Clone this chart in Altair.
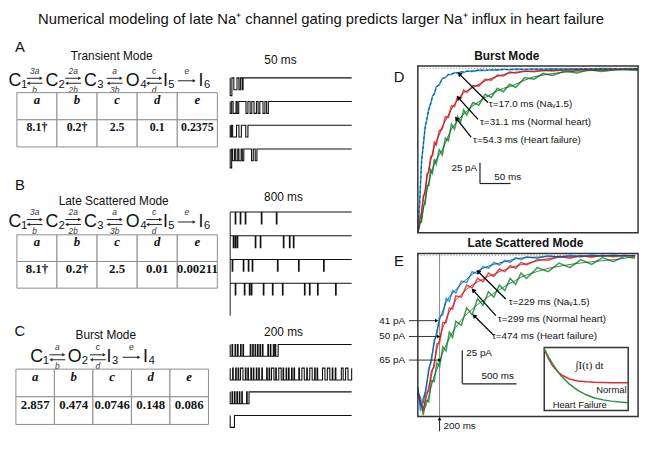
import altair as alt
import pandas as pd

# ---------------- data ----------------
title_text = "Numerical modeling of late Na\u207a channel gating predicts larger Na\u207a influx in heart failure"

params = ["a", "b", "c", "d", "e"]
rates_A = ["8.1\u2020", "0.2\u2020", "2.5", "0.1", "0.2375"]
rates_B = ["8.1\u2020", "0.2\u2020", "2.5", "0.01", "0.00211"]
rates_C = ["2.857", "0.474", "0.0746", "0.148", "0.086"]

# Panel D (burst mode), time in ms, current in pA
t_D = [0, 3, 6, 9, 12, 15, 18, 21, 24, 27, 30, 35, 40, 45, 50, 55, 60, 65, 70, 75, 80,
       90, 100, 110, 120, 130, 140, 150, 160, 175, 190, 205, 220, 240, 260, 280, 300, 330, 360]
blue_D_raw = [-198, -163, -112, -93, -70, -61, -48, -43, -33, -31, -22, -20, -12, -11, -7, -7.5, -5, -6, -4, -5, -3,
              -3.5, -2, -2.5, -1.5, -2, -1, -1.5, -0.8, -1.2, -0.7, -1, -0.5, -0.8, -0.4, -0.6, -0.2, -0.4, 0]
blue_D_fit = [-198, -160, -115, -90, -72, -59, -50, -41, -35, -29, -24, -18, -13, -10, -8, -6.5, -5.5, -5, -4.5, -4, -3.5,
              -3, -2.2, -2, -1.8, -1.5, -1.3, -1.2, -1, -1, -0.9, -0.8, -0.7, -0.6, -0.5, -0.4, -0.3, -0.2, -0.1]
red_D_raw = [-198, -182, -176, -153, -150, -127, -125, -106, -105, -89, -92, -75, -73, -58, -59, -45, -46, -34, -36, -26, -29,
             -21, -21, -13, -14, -8, -9, -4.5, -5.5, -3, -4, -2.2, -3, -1.5, -2, -0.8, -1.4, -0.5, -0.8]
red_D_fit = [-198, -185, -172, -158, -146, -132, -121, -111, -102, -94, -88, -80, -70, -63, -56, -49, -43, -38, -33, -29, -27,
             -23, -19, -15, -12, -9.5, -7.5, -5.5, -4.5, -3.8, -3.2, -2.8, -2.4, -2, -1.5, -1.2, -1, -0.8, -0.5]
green_D_raw = [-198, -186, -185, -165, -163, -141, -141, -122, -126, -109, -115, -98, -104, -84, -87, -67, -73, -58, -64, -50, -56,
               -41, -44, -31, -35, -24, -28, -19, -23, -11, -13, -6, -8.5, -3, -5.5, -1.5, -3.5, -1, -2.5]
green_D_fit = [-198, -190, -181, -170, -158, -147, -137, -128, -121, -115, -110, -104, -98, -90, -81, -73, -68, -63, -59, -55, -51,
               -45, -40, -35, -31, -27, -24, -22, -19, -14, -10, -8, -6.2, -4.5, -3.2, -2.6, -2.2, -1.8, -1.2]

# Panel E (late scattered mode)
t_E = [0, 25, 50, 75, 100, 125, 150, 175, 200, 230, 260, 290, 320, 350, 400, 450, 500, 550, 600, 650,
       700, 750, 800, 850, 900, 950, 1000, 1100, 1200, 1300, 1400, 1500, 1600, 1700, 1800, 1900, 2000]
blue_E_raw = [-98, -116, -106, -101, -84, -79, -63, -59, -45, -44, -32, -34, -26, -28, -19, -20, -12, -13.5, -8, -9.5,
              -5, -7, -3.5, -5, -1.5, -3, -0.8, -2, 0, -1.2, 0.3, -0.8, 0.5, -0.5, 0.4, -0.4, 0.2]
blue_E_fit = [-98, -112, -110, -98, -87, -76, -66, -56, -48, -41, -35, -31, -28, -25.5, -21, -17.5, -14, -11.5, -9.5, -7.8,
              -6.5, -5.5, -4.5, -3.5, -2.5, -1.8, -1.5, -1.1, -0.8, -0.6, -0.4, -0.2, -0.1, 0, 0, 0, 0]
red_E_raw = [-102, -108, -117, -103, -101, -86, -83, -66, -65, -50, -50, -39, -40, -30, -31, -22, -24, -17, -19.5, -13,
             -15.5, -10, -12, -7.5, -9.5, -5, -7, -3, -3.5, -0.5, -2, 0, -1.2, 0.3, -0.8, 0.2, -0.4]
red_E_fit = [-102, -110, -114, -107, -98, -90, -80, -70, -62, -54, -47.5, -42, -37.5, -33, -29, -25, -22, -19.5, -17.5, -15.5,
             -14, -12, -10.5, -9, -8, -6.8, -6, -4, -2.2, -1.3, -1, -0.8, -0.6, -0.4, -0.3, -0.2, -0.1]
green_E_raw = [-102, -106, -119, -108, -109, -93, -94, -80, -83, -68, -71, -57, -61, -49, -52, -39, -44, -32, -37, -27,
               -31, -22, -26, -17, -21.5, -13, -17, -9, -12, -5.5, -9, -3, -6.5, -1.5, -4.5, -0.5, -2]
green_E_fit = [-102, -110, -116, -112, -105, -97, -90, -85, -79, -72.5, -66.5, -61.5, -57, -53.5, -48, -43.5, -40, -36.5, -33.5, -30.5,
               -28, -25.5, -23, -20.5, -18.5, -16, -14.5, -11.8, -9.5, -8, -6.6, -5.5, -4.6, -3.8, -3, -2, -0.8]

# Inset of E (normalised integral of current)
inset_u = [0, 0.05, 0.1, 0.15, 0.2, 0.3, 0.4, 0.5, 0.6, 0.7, 0.8, 0.9, 1.0]
inset_normal = [0.98, 0.82, 0.71, 0.63, 0.57, 0.5, 0.47, 0.455, 0.447, 0.444, 0.442, 0.441, 0.44]
inset_hf = [0.98, 0.85, 0.74, 0.64, 0.55, 0.42, 0.32, 0.25, 0.2, 0.17, 0.15, 0.135, 0.125]

# Single-channel sweeps: openings (start ms, end ms[, amplitude])
trace_50ms = [
    [(0, 0.7, 1.5), (1.5, 2.8), (3.6, 4.2), (4.9, 5.3)],
    [(0, 0.6), (1.2, 2.4), (2.9, 3.5), (6.5, 7.3), (8.2, 8.9), (9.8, 10.8), (11.5, 12.2), (13.5, 14.3), (15.0, 15.7)],
    [(0, 0.5), (1.0, 2.6), (3.6, 4.6), (6.4, 7.3)],
    [(0, 0.6, 1.6), (1.0, 1.8), (2.3, 3.1), (3.6, 4.5), (5.0, 5.6), (8.8, 9.5), (10.3, 11.0)],
]
trace_800ms = [
    [(33, 37), (66, 70), (99, 103), (205, 209), (304, 308)],
    [(20, 24), (33, 37), (46, 50), (165, 169), (198, 202), (350, 354), (390, 394), (416, 420)],
    [(13, 17), (86, 90), (119, 123), (145, 149), (311, 315), (450, 454), (615, 619)],
    [(33, 37), (93, 97), (126, 130), (139, 143), (218, 222), (278, 282), (344, 348), (489, 493), (522, 526), (575, 579), (694, 698)],
]
trace_200ms = [
    [(0, 3), (4, 8), (9, 12), (13, 17), (18, 21), (22, 33), (34, 37), (38, 41), (42, 45), (46, 49), (50, 53),
     (54, 62), (63, 66), (67, 71), (72, 74), (75, 79)],
    [(0, 4), (5, 9), (10, 13), (14, 17), (21, 25), (26, 29), (30, 34), (35, 38), (39, 43), (44, 47), (48, 52),
     (53, 60), (61, 64), (65, 68), (72, 75), (76, 80), (84, 87), (88, 92), (93, 96), (97, 101), (102, 105),
     (106, 113), (114, 118), (122, 126), (127, 131), (135, 139), (140, 143), (144, 152), (156, 160), (164, 168),
     (169, 173), (174, 183), (186, 190), (194, 200)],
    [(0, 3), (4, 7), (8, 11), (12, 15), (16, 19), (20, 27), (28, 31)],
    [(0, 7)],
]

# ---------------- styles ----------------
SANS = "Liberation Sans"
SERIF = "Liberation Serif"

STY = {
    "title": dict(font=SANS, fontSize=15, color="#111"),
    "letter": dict(font=SANS, fontSize=15, color="#111"),
    "mode": dict(font=SANS, fontSize=12, color="#111"),
    "modeb": dict(font=SANS, fontSize=12, fontWeight="bold", color="#111"),
    "state": dict(font=SANS, fontSize=18, color="#111"),
    "rate": dict(font=SANS, fontSize=8.5, fontStyle="italic", color="#333"),
    "ann": dict(font=SANS, fontSize=10, align="left", color="#111"),
    "annc": dict(font=SANS, fontSize=10, align="center", color="#111"),
    "annr": dict(font=SANS, fontSize=10, align="right", color="#111"),
    "lbl": dict(font=SANS, fontSize=12, color="#111"),
    "serif": dict(font=SERIF, fontSize=11, color="#111"),
    "small": dict(font=SANS, fontSize=9.5, align="left", color="#111"),
    "smallr": dict(font=SANS, fontSize=9.5, align="right", color="#111"),
}


def lin(domain, reverse=False, rng=None):
    if rng is None:
        return alt.Scale(domain=domain, nice=False, zero=False, reverse=reverse)
    return alt.Scale(domain=domain, nice=False, zero=False, reverse=reverse, range=rng)


def text_layers(items, xs, ys):
    kinds = []
    for it in items:
        if it[3] not in kinds:
            kinds.append(it[3])
    layers = []
    for k in kinds:
        df = pd.DataFrame([(a, b, c) for a, b, c, kk in items if kk == k], columns=["label", "x", "y"])
        layers.append(alt.Chart(df).mark_text(**STY[k]).encode(
            x=alt.X("x:Q", scale=xs, axis=None),
            y=alt.Y("y:Q", scale=ys, axis=None),
            text="label:N"))
    return layers


def segs(x1, y1, x2, y2, xs, ys, color="black", width=1.2, dash=None):
    df = pd.DataFrame({"a": x1, "b": y1, "c": x2, "d": y2})
    kw = dict(color=color, strokeWidth=width)
    if dash:
        kw["strokeDash"] = dash
    return alt.Chart(df).mark_rule(**kw).encode(
        x=alt.X("a:Q", scale=xs, axis=None), y=alt.Y("b:Q", scale=ys, axis=None), x2="c:Q", y2="d:Q")


def heads(x, y, ang, xs, ys, size=26, color="black"):
    df = pd.DataFrame({"x": x, "y": y, "ang": ang})
    return alt.Chart(df).mark_point(shape="triangle-up", filled=True, color=color, size=size, opacity=1).encode(
        x=alt.X("x:Q", scale=xs, axis=None), y=alt.Y("y:Q", scale=ys, axis=None),
        angle=alt.Angle("ang:Q", scale=None))


def page_chart(items, x0, x1, y0, y1, arrows=None):
    xs = lin([x0, x1])
    ys = lin([y0, y1], reverse=True)
    layers = []
    if arrows:
        sx1, sy1, sx2, sy2, hx, hy, ha = arrows
        layers.append(segs(sx1, sy1, sx2, sy2, xs, ys, color="#222", width=1))
        layers.append(heads(hx, hy, ha, xs, ys, size=12, color="#222"))
    layers += text_layers(items, xs, ys)
    return alt.layer(*layers).properties(width=x1 - x0, height=y1 - y0)


def scheme(states, arrows, y):
    items = []
    sx1, sy1, sx2, sy2, hx, hy, ha = [], [], [], [], [], [], []
    for s, x in states:
        items.append((s, x, y, "state"))
    for kind, x, above, below in arrows:
        if kind == "rev":
            # forward arrow (top) and backward arrow (bottom)
            sx1 += [x - 8, x + 8]; sy1 += [y - 2.5, y + 2.5]
            sx2 += [x + 6, x - 6]; sy2 += [y - 2.5, y + 2.5]
            hx += [x + 6.5, x - 6.5]; hy += [y - 2.5, y + 2.5]; ha += [90, 270]
        else:
            sx1 += [x - 9]; sy1 += [y]; sx2 += [x + 7]; sy2 += [y]
            hx += [x + 7.5]; hy += [y]; ha += [90]
        if above:
            items.append((above, x, y - 10, "rate"))
        if below:
            items.append((below, x, y + 9, "rate"))
    return items, (sx1, sy1, sx2, sy2, hx, hy, ha)


def table_chart(values, rng, height, vsize):
    rows = []
    for p, v in zip(params, values):
        rows.append((p, "hdr", p))
        rows.append((p, "val", v))
    df = pd.DataFrame(rows, columns=["param", "row", "label"])
    xs = alt.Scale(type="band", domain=params, range=rng, paddingInner=0, paddingOuter=0)
    ys = alt.Scale(type="band", domain=["hdr", "val"], paddingInner=0, paddingOuter=0)
    base = alt.Chart(df).encode(x=alt.X("param:N", scale=xs, axis=None),
                                y=alt.Y("row:N", scale=ys, axis=None))
    cells = base.mark_rect(fill="white", stroke="#8c8c8c", strokeWidth=1)
    hdr = base.transform_filter("datum.row == 'hdr'").mark_text(
        font=SERIF, fontSize=13, fontWeight="bold", fontStyle="italic", dy=-6, color="#111").encode(text="label:N")
    val = base.transform_filter("datum.row == 'val'").mark_text(
        font=SERIF, fontSize=vsize, fontWeight="bold", dy=-6, color="#111").encode(text="label:N")
    return alt.layer(cells, hdr, val).properties(width=212, height=height)


def trace_frame(traces, T):
    rows = []
    for k, ops in enumerate(traces):
        i = 0
        rows.append((k, i, 0.0, 0.0))
        i += 1
        for op in ops:
            s, e = op[0], op[1]
            a = op[2] if len(op) > 2 else 1.0
            rows += [(k, i, s, 0.0), (k, i + 1, s, a), (k, i + 2, e, a), (k, i + 3, e, 0.0)]
            i += 4
        rows.append((k, i, T, 0.0))
    return pd.DataFrame(rows, columns=["trace", "idx", "t", "state"])


def trace_group(traces, T, ydom, height, label, label_t, label_y, vline=None):
    xs = lin([0, T])
    ys = lin(ydom)
    df = trace_frame(traces, T)
    lines = alt.Chart(df).transform_calculate(level="-(2*datum.trace + datum.state)").mark_line(
        color="#111", strokeWidth=1.1).encode(
        x=alt.X("t:Q", scale=xs, axis=None),
        y=alt.Y("level:Q", scale=ys, axis=None),
        detail="trace:N", order="idx:Q")
    layers = [lines]
    if vline is not None:
        vdf = pd.DataFrame({"t": [0], "y1": [0], "y2": [vline]})
        layers.append(alt.Chart(vdf).mark_rule(color="#222", strokeWidth=1).encode(
            x=alt.X("t:Q", scale=xs, axis=None), y=alt.Y("y1:Q", scale=ys, axis=None), y2="y2:Q"))
    layers += text_layers([(label, label_t, label_y, "lbl")], xs, ys)
    return alt.layer(*layers).properties(width=123, height=height)


def curve(t, vals, xs, ys, color, width, dash=None):
    df = pd.DataFrame({"t": t, "I": vals})
    kw = dict(color=color, strokeWidth=width)
    if dash:
        kw["strokeDash"] = dash
    return alt.Chart(df).mark_line(**kw).encode(
        x=alt.X("t:Q", scale=xs, axis=None), y=alt.Y("I:Q", scale=ys, axis=None))


def box(x1, x2, y1, y2, xs, ys, width=1.5, fill=None):
    df = pd.DataFrame({"a": [x1], "b": [y1], "c": [x2], "d": [y2]})
    kw = dict(stroke="#333", strokeWidth=width)
    if fill:
        kw["fill"] = fill
    else:
        kw["fillOpacity"] = 0
    return alt.Chart(df).mark_rect(**kw).encode(
        x=alt.X("a:Q", scale=xs, axis=None), y=alt.Y("b:Q", scale=ys, axis=None), x2="c:Q", y2="d:Q")


BLUE, RED, GREEN = "#2f9fe0", "#e5484c", "#35a04e"
BLUE_F, RED_F, GREEN_F = "#1b3a6b", "#9c1d1d", "#1e5f2b"

# ---------------- title ----------------
title_chart = page_chart([(title_text, 325, 17, "title")], 8, 639, 8, 38)

# ---------------- left column ----------------
six_states = [("C\u2081", 18), ("C\u2082", 56), ("C\u2083", 95), ("O\u2084", 138), ("I\u2085", 171), ("I\u2086", 207)]
six_arrows = [("rev", 35, "3a", "b"), ("rev", 74, "2a", "2b"), ("rev", 116, "a", "3b"),
              ("rev", 156, "c", "d"), ("fwd", 189, "e", None)]

A_sch, A_arr = scheme(six_states, six_arrows, 79)
A_head = page_chart([("A", 20, 45, "letter"), ("Transient Mode", 113, 54, "mode")] + A_sch, 8, 220, 38, 91, A_arr)
A_tab = table_chart(rates_A, [9, 212], 55, 12)

B_sch, B_arr = scheme(six_states, six_arrows, 222)
B_head = page_chart([("B", 20, 185, "letter"), ("Late Scattered Mode", 115, 201, "mode")] + B_sch, 8, 220, 146, 235, B_arr)
B_tab = table_chart(rates_B, [9, 212], 54, 13)

C_sch, C_arr = scheme([("C\u2081", 40), ("O\u2082", 79), ("I\u2083", 114), ("I\u2084", 151)],
                      [("rev", 58, "a", "b"), ("rev", 99, "c", "d"), ("fwd", 133, "e", None)], 359)
C_head = page_chart([("C", 20, 332, "letter"), ("Burst Mode", 107, 336, "mode")] + C_sch, 8, 220, 289, 371, C_arr)
C_tab = table_chart(rates_C, [8, 203], 56, 13)

left_col = alt.vconcat(A_head, A_tab, B_head, B_tab, C_head, C_tab, spacing=0, bounds="flush")

# ---------------- middle column ----------------
g50 = trace_group(trace_50ms, 50, [-7.0, 3.17], 122, "50 ms", 20.7, 1.5)
g800 = trace_group(trace_800ms, 800, [-9.42, 4.33], 165, "800 ms", 351, 1.25, vline=-8.75)
g200 = trace_group(trace_200ms, 200, [-7.0, 1.75], 105, "200 ms", 87.8, 1.08)
mid_col = alt.vconcat(g50, g800, g200, spacing=0, bounds="flush")

# ---------------- panel D ----------------
RW = 267          # right column width (labels area + plot)
PX = [44, 267]    # plot area inside the right column
xs_D = lin([0, 360], rng=PX)
ys_D = lin([-198, 3])
D_layers = [
    segs([0], [0], [360], [0], xs_D, ys_D, color="#777", width=0.8, dash=[1, 2]),
    curve(t_D, green_D_raw, xs_D, ys_D, GREEN, 1.6),
    curve(t_D, red_D_raw, xs_D, ys_D, RED, 1.6),
    curve(t_D, blue_D_raw, xs_D, ys_D, BLUE, 1.6),
    curve(t_D, green_D_fit, xs_D, ys_D, GREEN_F, 0.9),
    curve(t_D, red_D_fit, xs_D, ys_D, RED_F, 0.9),
    curve(t_D, blue_D_fit, xs_D, ys_D, BLUE_F, 0.9, dash=[3, 2]),
    box(0, 360, -198, 3, xs_D, ys_D),
    segs([114.5, 98.4, 87.1], [-41, -61.3, -82.7], [67.7, 66.1, 62.9], [-6.5, -35.1, -60.1], xs_D, ys_D, width=1.3),
    heads([67.7, 66.1, 62.9], [-6.5, -35.1, -60.1], [315, 318, 322], xs_D, ys_D),
    segs([101.6, 101.6], [-113.6, -138.6], [101.6, 151.6], [-138.6, -138.6], xs_D, ys_D, color="#222", width=1.2),
] + text_layers([
    ("\u03c4=17.0 ms (Na\u1d651.5)", 116, -43.4, "ann"),
    ("\u03c4=31.1 ms (Normal heart)", 101.6, -64.9, "ann"),
    ("\u03c4=54.3 ms (Heart failure)", 90.3, -86.3, "ann"),
    ("25 pA", 97, -119.6, "annr"),
    ("50 ms", 147, -130.3, "annc"),
    ("D", -30.6, -10, "letter"),
], xs_D, ys_D)
D_chart = alt.layer(*D_layers).properties(width=RW, height=169)
D_top = page_chart([("Burst Mode", 506, 54, "modeb")], 372, 639, 38, 64)

# ---------------- panel E ----------------
xs_E = lin([0, 2027], rng=PX)
ys_E = lin([-120, 1.5])
E_main = alt.layer(*([
    segs([0], [0], [2027], [0], xs_E, ys_E, color="#777", width=0.8, dash=[1, 2]),
    segs([200], [1.5], [200], [-120], xs_E, ys_E, color="#8a8a8a", width=1),
    curve(t_E, green_E_raw, xs_E, ys_E, GREEN, 1.5),
    curve(t_E, red_E_raw, xs_E, ys_E, RED, 1.5),
    curve(t_E, blue_E_raw, xs_E, ys_E, BLUE, 1.5),
    curve(t_E, green_E_fit, xs_E, ys_E, GREEN_F, 0.8),
    curve(t_E, red_E_fit, xs_E, ys_E, RED_F, 0.8),
    curve(t_E, blue_E_fit, xs_E, ys_E, BLUE_F, 0.8),
    box(0, 2027, -120, 1.5, xs_E, ys_E),
    segs([809, 718, 700], [-32.3, -44.8, -59.5], [555, 509, 518], [-11.8, -25.7, -44.8], xs_E, ys_E, width=1.3),
    heads([555, 509, 518], [-11.8, -25.7, -44.8], [315, 318, 315], xs_E, ys_E),
    segs([409, 409], [-70.6, -95.6], [409, 909], [-95.6, -95.6], xs_E, ys_E, color="#222", width=1.2),
    segs([-82, -82, -82], [-48.5, -60.3, -77.9], [173, 191, 200], [-48.5, -60.3, -77.9], xs_E, ys_E, color="#333", width=1),
    heads([173, 191, 200], [-48.5, -60.3, -77.9], [90, 90, 90], xs_E, ys_E, size=14),
    segs([200], [-121], [200], [-131], xs_E, ys_E, color="#222", width=1),
    heads([200], [-121.5], [0], xs_E, ys_E, size=14),
] + text_layers([
    ("\u03c4=229 ms (Na\u1d651.5)", 836, -34.5, "ann"),
    ("\u03c4=299 ms (Normal heart)", 736, -47, "ann"),
    ("\u03c4=474 ms (Heart failure)", 682, -60.3, "ann"),
    ("25 pA", 445, -72.8, "ann"),
    ("500 ms", 736, -89.7, "annc"),
    ("41 pA", -118, -48.5, "annr"),
    ("50 pA", -118, -60.3, "annr"),
    ("65 pA", -118, -77.9, "annr"),
    ("200 ms", 236, -127, "ann"),
    ("E", -173, -4.4, "letter"),
], xs_E, ys_E)))

xs_in = alt.Scale(domain=[0, 1], range=[172, 257], nice=False, zero=False)
ys_in = alt.Scale(domain=[0, 1], range=[159, 95], nice=False, zero=False)
inset = alt.layer(
    box(0, 1, 0, 1, xs_in, ys_in, fill="white"),
    curve(inset_u, inset_normal, xs_in, ys_in, "#d62f2f", 1.5),
    curve(inset_u, inset_hf, xs_in, ys_in, "#2f8f3f", 1.5),
    *text_layers([
        ("\u222bI(t) dt", 0.54, 0.70, "serif"),
        ("Normal", 0.98, 0.33, "smallr"),
        ("Heart Failure", 0.1, 0.09, "small"),
    ], xs_in, ys_in))

E_chart = alt.layer(E_main, inset).resolve_scale(x="independent", y="independent").properties(
    width=RW, height=165)
E_top = page_chart([("Late Scattered Mode", 525, 243, "modeb")], 372, 639, 233, 254)

right_col = alt.vconcat(D_top, D_chart, E_top, E_chart, spacing=0, bounds="flush")

# ---------------- assemble ----------------
main = alt.hconcat(left_col, alt.hconcat(mid_col, right_col, spacing=20, bounds="full"),
                   spacing=9, bounds="full")
chart = alt.vconcat(title_chart, main, spacing=0, bounds="flush").properties(
    padding=0, background="white").configure_view(stroke=None)

chart.save("out.html", embed_options={"renderer": "svg", "actions": False})
